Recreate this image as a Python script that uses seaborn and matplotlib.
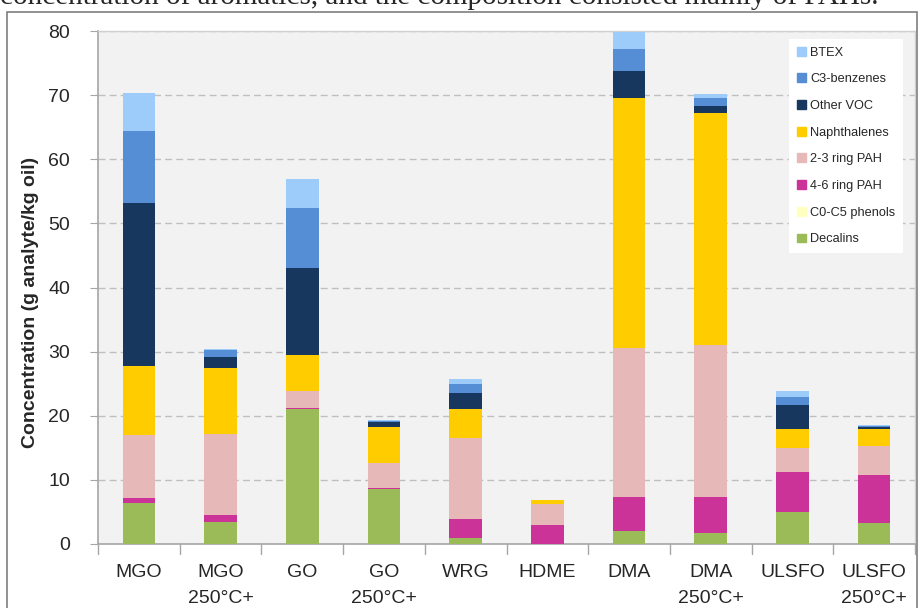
import numpy as np
import pandas as pd
import matplotlib
matplotlib.use("Agg")
import matplotlib.pyplot as plt
import matplotlib.patches as mpatches
import seaborn as sns

# fuel samples (x axis)
fuels = ["MGO", "MGO\n250°C+", "GO", "GO\n250°C+", "WRG", "HDME",
         "DMA", "DMA\n250°C+", "ULSFO", "ULSFO\n250°C+"]

# component amounts, g analyte / kg oil
decalins = [6.4, 3.5, 21.0, 8.5, 1.0, 0.0, 2.1, 1.7, 5.0, 3.3]
phenols = [0.0, 0.0, 0.0, 0.0, 0.0, 0.0, 0.0, 0.0, 0.0, 0.0]
pah_4_6 = [0.8, 1.0, 0.2, 0.2, 2.9, 2.9, 5.2, 5.7, 6.2, 7.4]
pah_2_3 = [9.8, 12.7, 2.6, 3.9, 12.7, 3.3, 23.2, 23.6, 3.8, 4.6]
naphthalenes = [10.7, 10.3, 5.7, 5.7, 4.4, 0.6, 39.0, 36.2, 2.9, 2.6]
other_voc = [25.5, 1.6, 13.6, 0.7, 2.6, 0.0, 4.2, 1.1, 3.7, 0.35]
c3_benzenes = [11.2, 1.2, 9.3, 0.25, 1.3, 0.0, 3.5, 1.3, 1.4, 0.2]
btex = [5.9, 0.1, 4.5, 0.1, 0.9, 0.1, 2.6, 0.6, 0.9, 0.1]

components = ["Decalins", "C0-C5 phenols", "4-6 ring PAH", "2-3 ring PAH",
              "Naphthalenes", "Other VOC", "C3-benzenes", "BTEX"]
values = [decalins, phenols, pah_4_6, pah_2_3, naphthalenes, other_voc, c3_benzenes, btex]
colors = ["#9BBB59", "#FFFFC0", "#CC3399", "#E6B9B8",
          "#FFCC00", "#17375E", "#558ED5", "#9DCBFA"]

df = pd.DataFrame(dict(zip(components, values)), index=fuels)
cum = df.cumsum(axis=1)

sns.set_style("white")
plt.rcParams["font.family"] = ["Liberation Sans", "DejaVu Sans"]

fig = plt.figure(figsize=(9.19, 6.08), dpi=100)
ax = fig.add_axes([98 / 919, 64 / 608, 817 / 919, 513 / 608])
ax.set_facecolor("#F2F2F2")

# stacked bars: draw cumulative totals from top layer down
for comp, col in zip(components[::-1], colors[::-1]):
    sns.barplot(x=fuels, y=cum[comp].values, color=col, width=0.4,
                linewidth=0, saturation=1, ax=ax, zorder=3)

ax.set_ylim(0, 80)
ax.set_xlim(-0.5, len(fuels) - 0.5)
ax.set_yticks(range(0, 81, 10))
ax.yaxis.grid(True, color="#BFBFBF", linestyle=(0, (5, 3)), linewidth=1, zorder=0)
ax.set_axisbelow(True)
ax.tick_params(axis="y", labelsize=14, left=True, length=6, color="#A6A6A6", pad=14)
ax.set_xticks(np.arange(len(fuels)))
ax.set_xticklabels(fuels, fontsize=14, linespacing=1.65, va="top")
ax.tick_params(axis="x", bottom=False, pad=11)
# category separators on the x axis
for xb in np.arange(-0.5, len(fuels), 1.0):
    ax.plot([xb, xb], [0, -1.6], color="#A6A6A6", lw=1, clip_on=False, zorder=4)

for side in ["left", "bottom"]:
    ax.spines[side].set_color("#A6A6A6")
    ax.spines[side].set_linewidth(1.2)
for side in ["top", "right"]:
    ax.spines[side].set_color("#D0D0D0")
    ax.spines[side].set_linewidth(1)

ax.set_ylabel("Concentration (g analyte/kg oil)", fontsize=14, fontweight="bold", labelpad=5)
ax.yaxis.set_label_coords(-0.072, 0.47)

handles = [mpatches.Patch(color=c, label=l) for l, c in zip(components[::-1], colors[::-1])]
leg = ax.legend(handles=handles, loc="upper right", bbox_to_anchor=(0.993, 0.997),
                fontsize=9.2, frameon=True, fancybox=False, framealpha=1,
                edgecolor="white", handlelength=0.7, handleheight=0.7,
                handletextpad=0.35, labelspacing=1.15, borderpad=0.6)
leg.get_frame().set_linewidth(0)

# outer frame and the cut-off sentence above it
fig.patches.append(mpatches.Rectangle((7 / 919, -0.05), 910 / 919, 1.05 - 12 / 608,
                                      transform=fig.transFigure, fill=False,
                                      edgecolor="#7F7F7F", linewidth=1.2))
fig.text(0.0, 1 - 4 / 608, "concentration of aromatics, and the composition consisted mainly of PAHs.",
         family=["Liberation Serif"], fontsize=21, va="baseline", ha="left")

fig.savefig("out.png", dpi=100)
